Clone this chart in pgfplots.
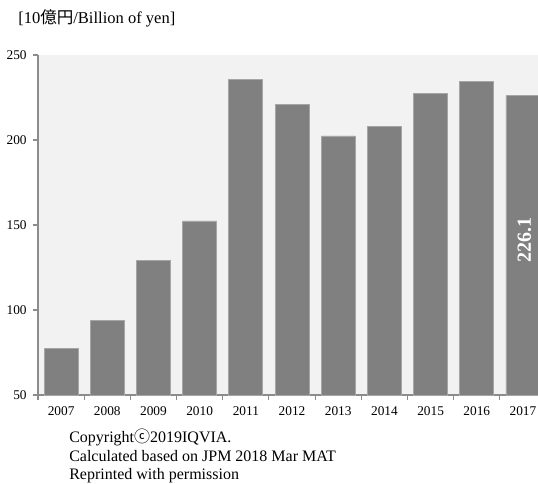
\documentclass[border=0pt]{standalone}
\usepackage{fontspec}
\setmainfont{Liberation Serif}
\newfontfamily\cjk{Noto Sans CJK JP}
\usepackage{pgfplots}
\pgfplotsset{compat=1.18}
\definecolor{bg}{HTML}{F2F2F2}
\definecolor{barc}{HTML}{808080}
\definecolor{bare}{HTML}{A6A6A6}
\definecolor{axc}{HTML}{8C8C8C}
\begin{document}
\begin{tikzpicture}[x=0.75pt,y=0.75pt]
\path[use as bounding box] (0,0) rectangle (538,-483);
\begin{axis}[
  at={(28.5pt,-296.25pt)}, anchor=south west,
  scale only axis, width=375pt, height=255pt,
  xmin=-0.5, xmax=10.325, ymin=50, ymax=250,
  axis background/.style={fill=bg},
  axis x line*=bottom, axis y line*=left,
  axis line style={draw=axc, line width=0.8pt},
  tick align=outside,
  ytick={50,100,...,250},
  xtick={0,...,10},
  xticklabels={2007,2008,2009,2010,2011,2012,2013,2014,2015,2016,2017},
  minor xtick={-0.5,0.5,...,9.5},
  major x tick style={draw=none},
  tick style={draw=axc, line width=0.8pt},
  major tick length=4pt, minor tick length=4pt,
  /pgf/number format/assume math mode=true,
  tick label style={font=\fontsize{10}{12}\selectfont},
  yticklabel style={xshift=-1pt},
  xticklabel style={yshift=-1pt},
  clip=true,
]
\addplot[ybar, bar width=25.5pt, fill=barc, draw=bare, line width=0.6pt]
  coordinates {(0,77.5) (1,93.7) (2,129.4) (3,152.4) (4,235.7) (5,221.0)
               (6,202.4) (7,208.0) (8,227.2) (9,234.3) (10,226.1)};
\node[rotate=90, text=white, font=\fontsize{15}{17}\selectfont\bfseries] at (axis cs:10.03,141) {226.1};
\end{axis}
\node[anchor=base west, font=\fontsize{12.4}{14}\selectfont, inner sep=0pt] at (18,-23) {[10{\cjk 億円}/Billion of yen]};
\node[anchor=base west, font=\fontsize{12}{14}\selectfont, inner sep=0pt] at (69,-442) {Copyright{\cjk ⓒ}2019IQVIA.};
\node[anchor=base west, font=\fontsize{12}{14}\selectfont, inner sep=0pt] at (69,-461) {Calculated based on JPM 2018 Mar MAT};
\node[anchor=base west, font=\fontsize{12}{14}\selectfont, inner sep=0pt] at (69,-479.5) {Reprinted with permission};
\end{tikzpicture}
\end{document}
